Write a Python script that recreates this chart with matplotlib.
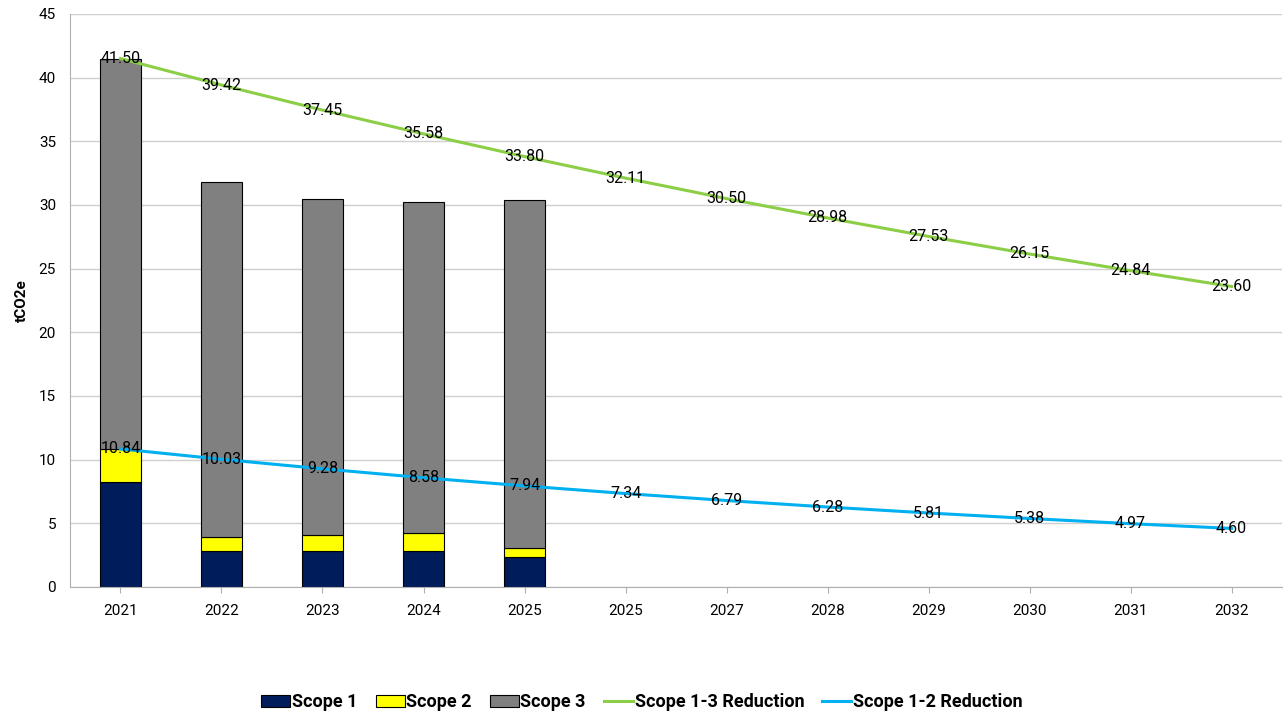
import matplotlib.pyplot as plt
import numpy as np

plt.rcParams['font.family'] = ['Roboto', 'DejaVu Sans']

years = ['2021', '2022', '2023', '2024', '2025', '2025', '2027', '2028', '2029', '2030', '2031', '2032']
scope1 = [8.25, 2.83, 2.83, 2.83, 2.36]
scope2 = [2.59, 1.12, 1.25, 1.40, 0.70]
scope3 = [30.66, 27.85, 26.35, 26.00, 27.35]
red_13 = [41.50, 39.42, 37.45, 35.58, 33.80, 32.11, 30.50, 28.98, 27.53, 26.15, 24.84, 23.60]
red_12 = [10.84, 10.03, 9.28, 8.58, 7.94, 7.34, 6.79, 6.28, 5.81, 5.38, 4.97, 4.60]

fig = plt.figure(figsize=(12.84, 7.19), dpi=100)
ax = fig.add_axes([0.0545, 0.1836, 0.944, 0.797])

x = np.arange(len(years))
xb = x[:len(scope1)]
w = 0.4
s1 = np.array(scope1)
s2 = np.array(scope2)
s3 = np.array(scope3)
b1 = ax.bar(xb, s1, w, color='#001c5a', edgecolor='black', linewidth=0.8, label='Scope 1', zorder=2)
b2 = ax.bar(xb, s2, w, bottom=s1, color='#ffff00', edgecolor='black', linewidth=0.8, label='Scope 2', zorder=2)
b3 = ax.bar(xb, s3, w, bottom=s1 + s2, color='#808080', edgecolor='black', linewidth=0.8, label='Scope 3', zorder=2)

l1, = ax.plot(x, red_13, color='#8cce46', linewidth=2.2, label='Scope 1-3 Reduction', zorder=3)
l2, = ax.plot(x, red_12, color='#00b0f0', linewidth=2.2, label='Scope 1-2 Reduction', zorder=3)

for xi, v in zip(x, red_13):
    ax.text(xi, v, f'{v:.2f}', ha='center', va='center', fontsize=11.5, zorder=4)
for xi, v in zip(x, red_12):
    ax.text(xi, v, f'{v:.2f}', ha='center', va='center', fontsize=11.5, zorder=4)

ax.set_xlim(-0.5, len(years) - 0.5)
ax.set_ylim(0, 45)
ax.set_yticks(np.arange(0, 46, 5))
ax.set_xticks(x)
ax.set_xticklabels(years)
ax.tick_params(axis='both', labelsize=11, length=0, pad=10)
ax.tick_params(axis='x', length=4, color='#b0b0b0', pad=8)
ax.grid(axis='y', color='#d0d0d0', linewidth=1, zorder=0)
ax.set_axisbelow(True)
for sp in ['top', 'right']:
    ax.spines[sp].set_visible(False)
for sp in ['left', 'bottom']:
    ax.spines[sp].set_color('#b0b0b0')
ax.set_ylabel('tCO2e', fontsize=11, fontweight='bold', labelpad=7)

fig.legend([b1, b2, b3, l1, l2],
           ['Scope 1', 'Scope 2', 'Scope 3', 'Scope 1-3 Reduction', 'Scope 1-2 Reduction'],
           loc='lower center', bbox_to_anchor=(0.5, -0.012), ncol=5, frameon=False,
           prop={'weight': 'bold', 'size': 13}, handlelength=1.6, handletextpad=0.1,
           columnspacing=1.0)

fig.savefig('out.png', dpi=100)
